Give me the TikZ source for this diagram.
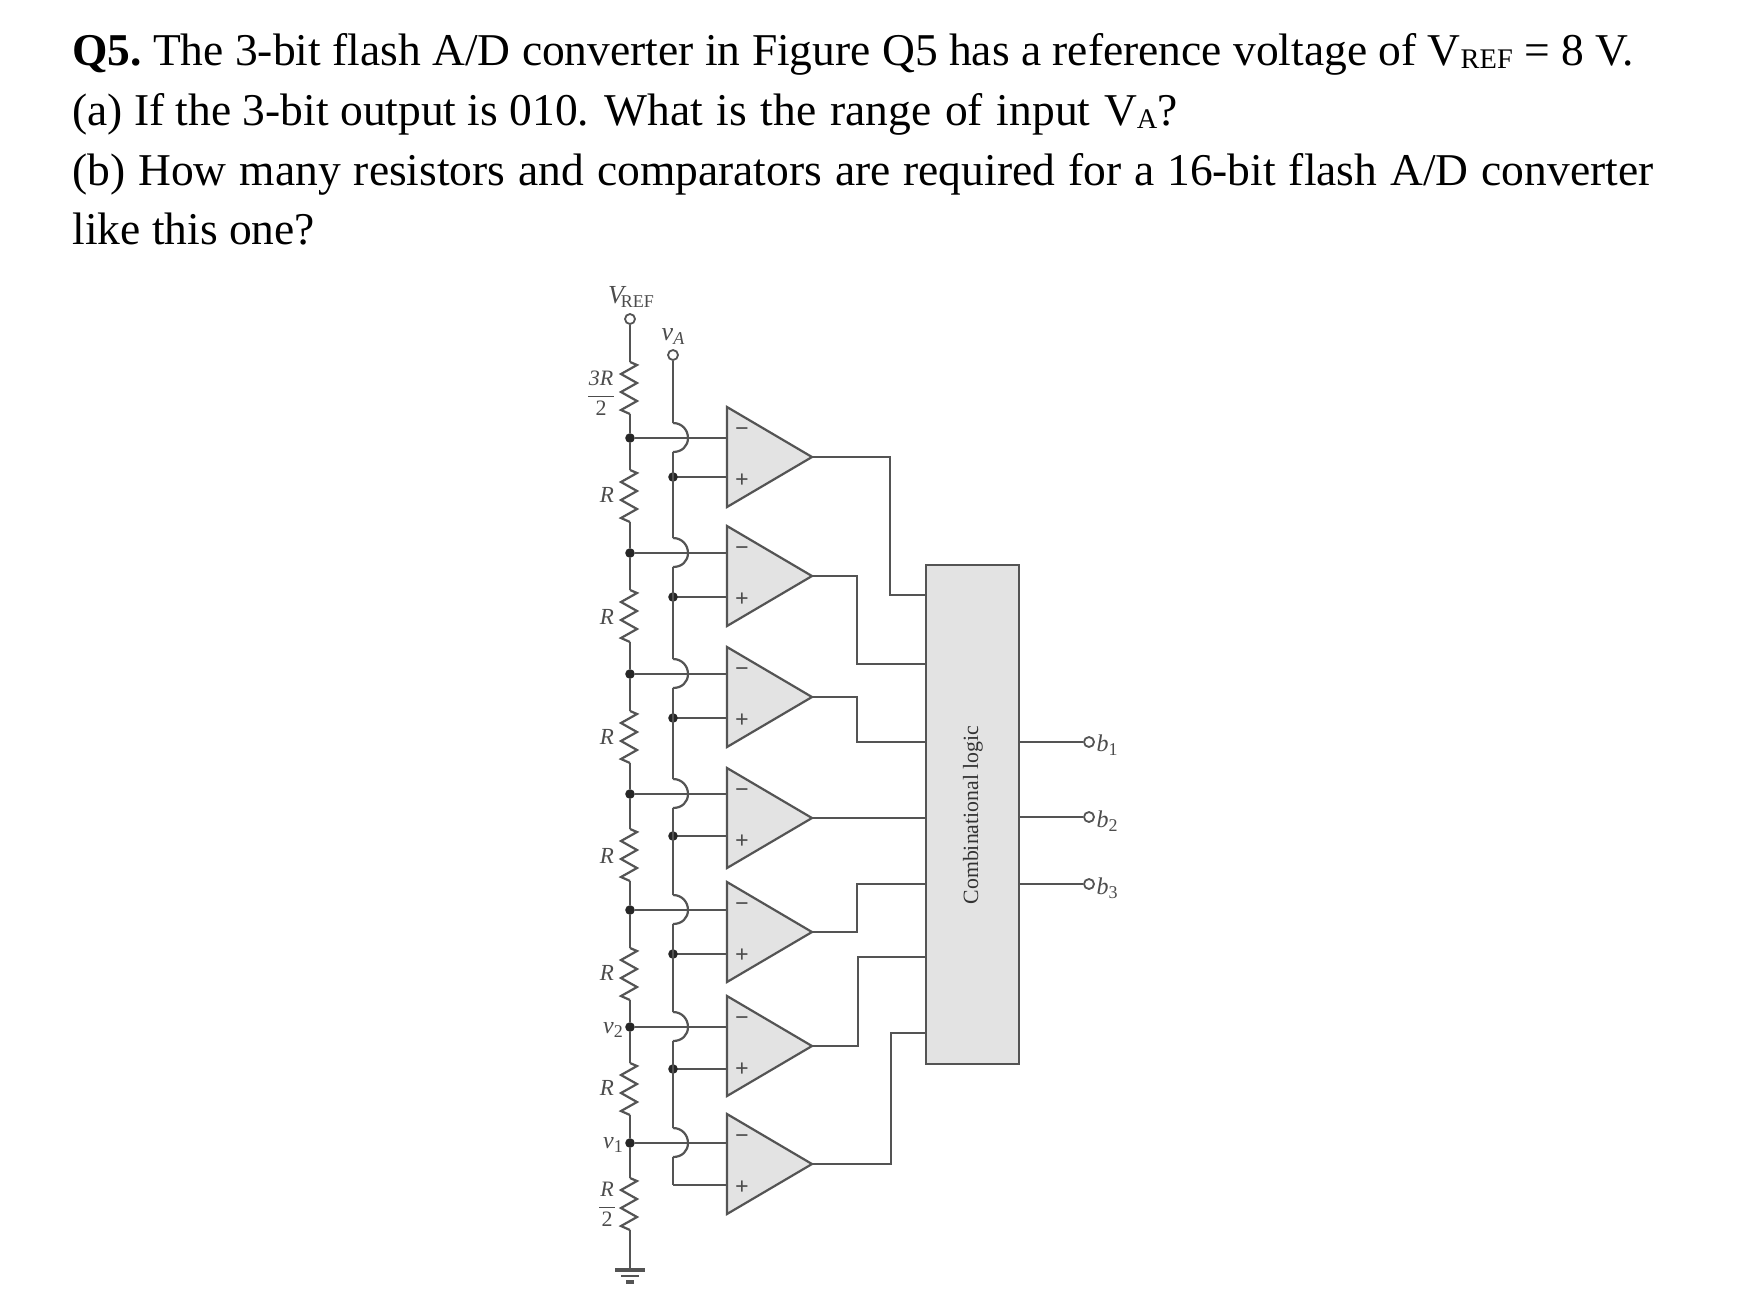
\documentclass[tikz,border=0pt]{standalone}
\usepackage{fontspec}
\setmainfont{Liberation Serif}
\newcommand\qsub[1]{\raisebox{-1.5pt}{\fontsize{14.2}{16}\selectfont #1}}
\begin{document}
\begin{tikzpicture}[x=0.5pt,y=-0.5pt,
  wire/.style={draw=wirec,line width=1.1pt,line join=miter},
  dotn/.style={circle,fill=black!85,inner sep=0pt,minimum size=4.8pt},
  term/.style={circle,draw=wirec,fill=white,line width=0.9pt,inner sep=0pt,minimum size=5pt},
  lab/.style={text=black!70,inner sep=0pt,font=\fontsize{11}{12}\selectfont\itshape},
  qline/.style={anchor=base west,inner sep=0pt,font=\fontsize{22.75}{24}\selectfont},
  sign/.style={text=black!70,inner sep=0pt,font=\fontsize{12}{12}\selectfont\bfseries},
  zig/.pic={
    \coordinate (-top) at (0,0);
    \coordinate (-bot) at (0,52);
    \draw[wire] (0,0)--(7,3)--(-9,12)--(7,21)--(-9,30)--(7,39)--(-9,48)--(0,52);
  },
  comp/.pic={
    \path[wire,fill=boxc] (0,0)--(85,50)--(0,100)--cycle;
    \coordinate (-out) at (85,50);
    \node[sign] (-m) at (15,25) {−};
    \node[sign] (-p) at (15,74) {+};
  }]
\definecolor{wirec}{gray}{0.33}
\definecolor{boxc}{gray}{0.89}
\useasboundingbox (0,0) rectangle (1739,1303);
\fill[white] (0,0) rectangle (1739,1303);
\node[qline] (q1) at (72,65) {\textbf{Q5.}\kern-2pt{} The 3-bit flash A/D converter in Figure Q5 has a reference voltage of V\qsub{REF} = 8 V.};
\node[qline] (q2) at (72,125) {(a) If the 3-bit output is 010. {\spaceskip=6.9pt What is the range of input }V\qsub{A}?};
\node[qline] (q3) at (72,185) {\makebox[790.5pt][s]{(b) How many resistors and comparators are required for a 16-bit flash A/D converter}};
\node[qline] (q4) at (72,244) {like this one?};

% terminals
\node[term] (vref) at (630,319) {};
\node[term] (va) at (673,355) {};
\node[lab] (lvref) at (631,297) {\fontsize{13}{14}\selectfont V\kern-1.5pt\raisebox{-2pt}{\upshape\fontsize{9}{10}\selectfont REF}};
\node[lab] (lva) at (673,337) {\fontsize{13}{14}\selectfont v\raisebox{-2pt}{\fontsize{9}{10}\selectfont A}};

% resistors
\pic (r0) at (630,362) {zig};
\pic (r1) at (630,470) {zig};
\pic (r2) at (630,590) {zig};
\pic (r3) at (630,711) {zig};
\pic (r4) at (630,829) {zig};
\pic (r5) at (630,948) {zig};
\pic (r6) at (630,1063) {zig};
\pic (r7) at (630,1178) {zig};

% junctions
\foreach \n/\y in {1/438,2/553,3/674,4/794,5/910,6/1027,7/1143}
  \node[dotn] (j\n) at (630,\y) {};
\draw[wire] (vref)--(r0-top);
\draw[wire] (r0-bot)--(j1)--(r1-top);
\draw[wire] (r1-bot)--(j2)--(r2-top);
\draw[wire] (r2-bot)--(j3)--(r3-top);
\draw[wire] (r3-bot)--(j4)--(r4-top);
\draw[wire] (r4-bot)--(j5)--(r5-top);
\draw[wire] (r5-bot)--(j6)--(r6-top);
\draw[wire] (r6-bot)--(j7)--(r7-top);

% ground
\coordinate (gnd) at (630,1270);
\draw[wire] (r7-bot)--(gnd);
\draw[wire,line width=1.6pt] (615,1270)--(645,1270);
\draw[wire,line width=1.4pt] (621,1276)--(639,1276);
\draw[wire,line width=1.8pt] (626,1282)--(634,1282);

% comparators
\pic (c1) at (727,407) {comp};
\pic (c2) at (727,526) {comp};
\pic (c3) at (727,647) {comp};
\pic (c4) at (727,768) {comp};
\pic (c5) at (727,882) {comp};
\pic (c6) at (727,996) {comp};
\pic (c7) at (727,1114) {comp};

% va bus with bumps
\foreach \n/\y/\p in {1/438/477,2/553/597,3/674/718,4/794/836,5/910/954,6/1027/1069,7/1143/1185}{
  \coordinate (in\n) at (727,\y);
  \coordinate (pl\n) at (727,\p);
  \draw[wire] (j\n)--(in\n);
  \draw[wire] (673,\y-15) .. controls (682,\y-15) and (688,\y-8) .. (688,\y) .. controls (688,\y+8) and (682,\y+14) .. (673,\y+14);
  \draw[wire] (673,\p)--(pl\n);
}
\foreach \n/\p in {1/477,2/597,3/718,4/836,5/954,6/1069} \node[dotn] (d\n) at (673,\p) {};
\draw[wire] (va)--(673,423);
\draw[wire] (673,452)--(673,538);
\draw[wire] (673,567)--(673,659);
\draw[wire] (673,688)--(673,779);
\draw[wire] (673,808)--(673,895);
\draw[wire] (673,924)--(673,1012);
\draw[wire] (673,1041)--(673,1128);
\draw[wire] (673,1157)--(673,1185);

% logic box
\node[draw=wirec,fill=boxc,line width=1.1pt,minimum width=46.5pt,minimum height=249.5pt,inner sep=0pt] (logic) at (972.5,814.5) {};
\node[rotate=90,inner sep=0pt,text=black!80,font=\fontsize{10.9}{12}\selectfont] (ltxt) at (973,815) {Combinational logic};

% outputs
\coordinate (k1) at (890,595);
\coordinate (k2) at (857,664);
\coordinate (k3) at (857,742);
\coordinate (k5) at (857,884);
\coordinate (k6) at (858,957);
\coordinate (k7) at (891,1033);
\draw[wire] (c1-out)-|(k1)--(k1-|logic.west);
\draw[wire] (c2-out)-|(k2)--(k2-|logic.west);
\draw[wire] (c3-out)-|(k3)--(k3-|logic.west);
\draw[wire] (c4-out)--(c4-out-|logic.west);
\draw[wire] (c5-out)-|(k5)--(k5-|logic.west);
\draw[wire] (c6-out)-|(k6)--(k6-|logic.west);
\draw[wire] (c7-out)-|(k7)--(k7-|logic.west);

% b outputs
\node[term] (b1) at (1089,742) {};
\node[term] (b2) at (1089,817) {};
\node[term] (b3) at (1089,884) {};
\draw[wire] (b1-|logic.east)--(b1);
\draw[wire] (b2-|logic.east)--(b2);
\draw[wire] (b3-|logic.east)--(b3);
\node[lab] (lb1) at (1107,745) {\fontsize{12}{14}\selectfont b\raisebox{-2pt}{\upshape\fontsize{9}{10}\selectfont 1}};
\node[lab] (lb2) at (1107,821) {\fontsize{12}{14}\selectfont b\raisebox{-2pt}{\upshape\fontsize{9}{10}\selectfont 2}};
\node[lab] (lb3) at (1107,888) {\fontsize{12}{14}\selectfont b\raisebox{-2pt}{\upshape\fontsize{9}{10}\selectfont 3}};

% labels
\node[lab,align=center] (l0) at (601,393) {3R\\[-6pt]\rule{13pt}{0.5pt}\\[-3pt]\upshape 2};
\node[lab] (l1) at (607,495) {\fontsize{11.5}{14}\selectfont R};
\node[lab] (l2) at (607,617) {\fontsize{11.5}{14}\selectfont R};
\node[lab] (l3) at (607,737) {\fontsize{11.5}{14}\selectfont R};
\node[lab] (l4) at (607,856) {\fontsize{11.5}{14}\selectfont R};
\node[lab] (l5) at (607,973) {\fontsize{11.5}{14}\selectfont R};
\node[lab] (l6) at (607,1088) {\fontsize{11.5}{14}\selectfont R};
\node[lab,align=center] (l7) at (607,1204) {R\\[-6pt]\rule{8pt}{0.5pt}\\[-3pt]\upshape 2};
\node[lab] (lv2) at (613,1030) {\fontsize{12}{14}\selectfont v\raisebox{-2pt}{\upshape\fontsize{9}{10}\selectfont 2}};
\node[lab] (lv1) at (613,1145) {\fontsize{12}{14}\selectfont v\raisebox{-2pt}{\upshape\fontsize{9}{10}\selectfont 1}};
\end{tikzpicture}
\end{document}
